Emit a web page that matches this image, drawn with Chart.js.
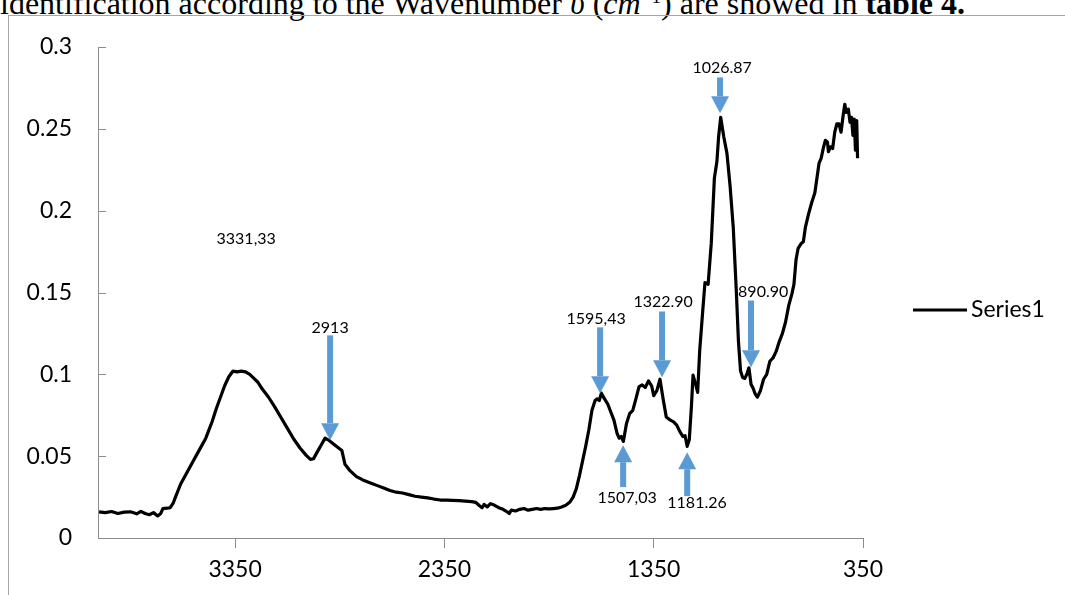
<!DOCTYPE html>
<html>
<head>
<meta charset="utf-8">
<script src="https://cdn.jsdelivr.net/npm/chart.js@4.4.0/dist/chart.umd.min.js"></script>
<style>
  html, body { margin: 0; padding: 0; background: #fff; width: 1065px; height: 595px; overflow: hidden; }
  #wrap { position: relative; width: 1065px; height: 595px; }
  #topText { position: absolute; left: 0; top: -13px; font-family: "Liberation Serif", "Times New Roman", serif; font-size: 32px; line-height: 32px; white-space: nowrap; color: #000; }
  #topText .sup { position: relative; top: -0.55em; font-size: 0.6em; }
  #frame { position: absolute; left: 8px; top: 15px; width: 1100px; height: 700px; border-left: 1px solid #a6a6a6; border-top: 1px solid #a6a6a6; }
  #c { position: absolute; left: 0; top: 0; }
</style>
</head>
<body>
<div id="wrap">
  <div id="topText">identification according to the Wavenumber <i>υ</i> (<i>cm</i><span class="sup">−1</span>) are showed in <b>table 4.</b></div>
  <div id="frame"></div>
  <canvas id="c" width="1065" height="595"></canvas>
</div>
<script>
// ---- Data ----
const seriesName = "Series1";
const wavenumbers = [
  4000,3970,3940,3910,3880,3850,3820,3800,3780,3760,3740,3720,3705,3695,3675,3660,3645,3635,3610,3580,
  3550,3520,3490,3460,3440,3420,3400,3380,3360,3340,3320,3300,3280,3260,3240,3220,3190,3160,3130,3100,
  3070,3040,3010,2990,2975,2960,2940,2920,2905,2880,2860,2840,2825,2800,2770,2740,2700,2670,2640,2610,
  2580,2550,2520,2490,2460,2430,2400,2370,2340,2310,2280,2250,2220,2200,2185,2170,2160,2145,2130,2110,
  2090,2070,2050,2040,2030,2010,1990,1970,1950,1930,1910,1890,1870,1850,1830,1810,1790,1770,1750,1735,
  1720,1705,1690,1675,1660,1645,1630,1620,1610,1600,1585,1570,1555,1540,1525,1515,1505,1495,1480,1465,
  1450,1435,1420,1405,1390,1375,1360,1350,1335,1320,1305,1290,1270,1255,1240,1225,1210,1200,1190,1180,
  1170,1162,1150,1140,1130,1115,1105,1090,1075,1060,1048,1040,1030,1015,1000,985,970,955,945,935,
  925,915,905,895,885,875,865,855,840,825,810,795,780,765,750,735,720,705,690,680,
  670,660,645,635,625,610,595,580,570,560,550,540,530,520,515,505,495,485,475,465,
  455,445,437,430,420,412,405,398,392,386,380,376
];
const absorbance = [
  0.0160,0.0155,0.0162,0.0150,0.0158,0.0160,0.0148,0.0163,0.0150,0.0142,0.0155,0.0135,0.0150,0.0180,0.0182,0.0185,0.0215,0.0250,0.0330,0.0400,
  0.0470,0.0540,0.0610,0.0710,0.0790,0.0860,0.0930,0.0985,0.1020,0.1015,0.1020,0.1015,0.1000,0.0975,0.0950,0.0910,0.0860,0.0800,0.0735,0.0670,
  0.0605,0.0550,0.0505,0.0480,0.0485,0.0520,0.0565,0.0610,0.0600,0.0575,0.0555,0.0535,0.0450,0.0410,0.0375,0.0355,0.0335,0.0320,0.0305,0.0290,
  0.0280,0.0275,0.0265,0.0255,0.0250,0.0245,0.0238,0.0232,0.0232,0.0230,0.0228,0.0225,0.0222,0.0218,0.0200,0.0185,0.0205,0.0190,0.0210,0.0200,
  0.0185,0.0175,0.0160,0.0150,0.0170,0.0165,0.0175,0.0180,0.0170,0.0175,0.0180,0.0175,0.0180,0.0178,0.0180,0.0182,0.0190,0.0200,0.0220,0.0250,
  0.0300,0.0380,0.0470,0.0560,0.0660,0.0780,0.0840,0.0850,0.0840,0.0885,0.0850,0.0820,0.0770,0.0720,0.0640,0.0610,0.0620,0.0590,0.0700,0.0760,
  0.0780,0.0850,0.0925,0.0935,0.0920,0.0960,0.0930,0.0870,0.0900,0.0970,0.0850,0.0740,0.0720,0.0710,0.0690,0.0650,0.0620,0.0625,0.0560,0.0600,
  0.0800,0.0995,0.0940,0.0890,0.1150,0.1400,0.1560,0.1550,0.1800,0.2200,0.2300,0.2450,0.2570,0.2450,0.2350,0.2150,0.1900,0.1500,0.1200,0.1020,
  0.0980,0.0975,0.1000,0.1040,0.0940,0.0915,0.0880,0.0860,0.0900,0.0970,0.1000,0.1080,0.1100,0.1140,0.1200,0.1250,0.1320,0.1420,0.1490,0.1550,
  0.1700,0.1770,0.1800,0.1810,0.1900,0.1980,0.2050,0.2110,0.2200,0.2290,0.2320,0.2380,0.2430,0.2420,0.2360,0.2390,0.2380,0.2480,0.2530,0.2530,
  0.2480,0.2580,0.2650,0.2600,0.2620,0.2540,0.2570,0.2460,0.2560,0.2370,0.2550,0.2320
];
const xTickValues = [3350, 2350, 1350, 350];
const yTickValues = [0, 0.05, 0.1, 0.15, 0.2, 0.25, 0.3];
const yTickLabels = ["0", "0.05", "0.1", "0.15", "0.2", "0.25", "0.3"];

// Annotations: arrows (x = wavenumber, tip/tail = absorbance)
const arrowX    = [2896, 1606, 1310, 1033, 885, 1496, 1190];
const arrowTip  = [0.0598, 0.0884, 0.0982, 0.2595, 0.1043, 0.0567, 0.0524];
const arrowTail = [0.1238, 0.1287, 0.1384, 0.2814, 0.1451, 0.0311, 0.0256];
// Annotation labels
const labelText = ["3331,33", "2913", "1595,43", "1322.90", "1026.87", "890.90", "1507,03", "1181.26"];
const labelX    = [3297, 2896, 1625, 1305, 1023, 827, 1477, 1143];
const labelY    = [0.183, 0.1287, 0.1342, 0.1440, 0.2873, 0.1506, 0.0244, 0.0213];

// ---- Chart ----
const AXIS_COLOR = '#8c8c8c';
const ARROW_COLOR = '#5b9bd5';
const FONT = 'Lato, "Open Sans", sans-serif';

const annotPlugin = {
  id: 'annot',
  afterDatasetsDraw(chart) {
    const ctx = chart.ctx;
    const xs = chart.scales.x, ys = chart.scales.y;
    const ca = chart.chartArea;
    ctx.save();
    // inward y ticks
    ctx.strokeStyle = AXIS_COLOR; ctx.lineWidth = 1;
    yTickValues.forEach(v => {
      const py = Math.round(ys.getPixelForValue(v)) + 0.5;
      ctx.beginPath(); ctx.moveTo(ca.left, py); ctx.lineTo(ca.left + 8, py); ctx.stroke();
    });
    // arrows
    ctx.fillStyle = ARROW_COLOR;
    const shaftW = 6, headW = 18, headL = 17;
    arrowX.forEach((wx, i) => {
      const px = xs.getPixelForValue(wx);
      const tip = ys.getPixelForValue(arrowTip[i]);
      const tail = ys.getPixelForValue(arrowTail[i]);
      const dir = tip > tail ? 1 : -1;
      const base = tip - dir * headL;
      ctx.fillRect(px - shaftW / 2, Math.min(tail, base), shaftW, Math.abs(base - tail));
      ctx.beginPath();
      ctx.moveTo(px - headW / 2, base);
      ctx.lineTo(px + headW / 2, base);
      ctx.lineTo(px, tip);
      ctx.closePath(); ctx.fill();
    });
    // labels
    ctx.fillStyle = '#000';
    ctx.font = '16px ' + FONT;
    ctx.textAlign = 'center'; ctx.textBaseline = 'middle';
    labelText.forEach((t, i) => {
      ctx.fillText(t, xs.getPixelForValue(labelX[i]), ys.getPixelForValue(labelY[i]));
    });
    // legend
    const ly = Math.round((ca.top + ca.bottom) / 2 + 17);
    const lx = ca.right + 50;
    ctx.strokeStyle = '#000'; ctx.lineWidth = 3;
    ctx.beginPath(); ctx.moveTo(lx, ly); ctx.lineTo(lx + 54, ly); ctx.stroke();
    ctx.font = '23px ' + FONT;
    ctx.textAlign = 'left';
    ctx.fillText(seriesName, lx + 58, ly);
    ctx.restore();
  }
};

new Chart(document.getElementById('c'), {
  type: 'line',
  data: {
    datasets: [{
      label: seriesName,
      data: wavenumbers.map((w, i) => ({ x: w, y: absorbance[i] })),
      borderColor: '#000',
      borderWidth: 3.2,
      pointRadius: 0,
      tension: 0,
      borderJoinStyle: 'round',
      fill: false
    }]
  },
  options: {
    responsive: false,
    animation: false,
    layout: { padding: { top: 47, right: 202, bottom: 0, left: 0 } },
    plugins: { legend: { display: false }, tooltip: { enabled: false } },
    scales: {
      x: {
        type: 'linear',
        reverse: true,
        min: 350,
        max: 4005,
        afterBuildTicks: s => { s.ticks = xTickValues.map(v => ({ value: v })); },
        afterFit: s => { s.height = 57; },
        grid: { drawOnChartArea: false, drawTicks: true, tickLength: 10, color: AXIS_COLOR },
        border: { color: AXIS_COLOR, width: 1 },
        ticks: { color: '#000', font: { family: FONT, size: 23 }, padding: 8, maxRotation: 0, autoSkip: false,
                 callback: v => String(v) }
      },
      y: {
        min: 0,
        max: 0.3,
        afterBuildTicks: s => { s.ticks = yTickValues.map(v => ({ value: v })); },
        afterFit: s => { s.width = 98; },
        grid: { drawOnChartArea: false, drawTicks: false },
        border: { color: AXIS_COLOR, width: 1 },
        ticks: { color: '#000', font: { family: FONT, size: 23 }, padding: 26,
                 callback: (v) => { const i = yTickValues.findIndex(t => Math.abs(t - v) < 1e-9); return i >= 0 ? yTickLabels[i] : ''; } }
      }
    }
  },
  plugins: [annotPlugin]
});
</script>
</body>
</html>
